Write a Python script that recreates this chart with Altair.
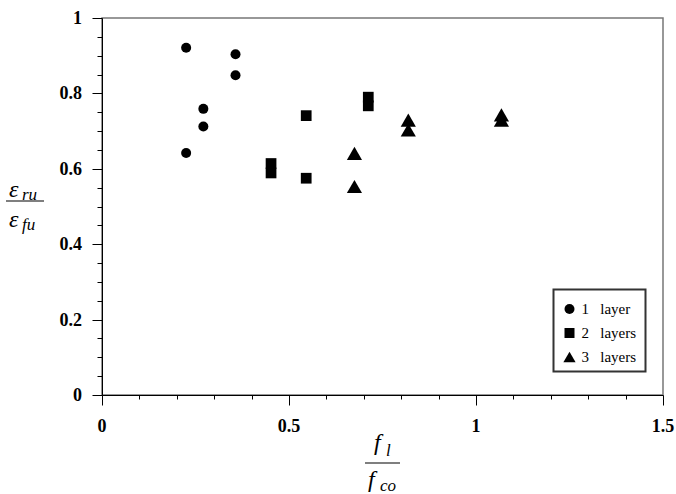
import altair as alt
import pandas as pd

# ---- data ----
groups = ["1 layer", "2 layers", "3 layers"]
x_1layer = [0.225, 0.225, 0.271, 0.271, 0.357, 0.357]
y_1layer = [0.921, 0.642, 0.759, 0.712, 0.904, 0.848]
x_2layers = [0.452, 0.452, 0.546, 0.546, 0.712, 0.712]
y_2layers = [0.614, 0.589, 0.741, 0.575, 0.790, 0.767]
x_3layers = [0.675, 0.675, 0.819, 0.819, 1.068, 1.068]
y_3layers = [0.641, 0.553, 0.729, 0.703, 0.743, 0.729]

x_major = [0, 0.5, 1, 1.5]
x_labels = ["0", "0.5", "1", "1.5"]
x_minor = [0.1, 0.2, 0.3, 0.4, 0.6, 0.7, 0.8, 0.9, 1.1, 1.2, 1.3, 1.4]
y_major = [0, 0.2, 0.4, 0.6, 0.8, 1]
y_labels = ["0", "0.2", "0.4", "0.6", "0.8", "1"]
y_minor = [0.05, 0.1, 0.15, 0.25, 0.3, 0.35, 0.45, 0.5, 0.55,
           0.65, 0.7, 0.75, 0.85, 0.9, 0.95]
legend_labels = ["1\u00a0\u00a0\u00a0layer", "2\u00a0\u00a0\u00a0layers", "3\u00a0\u00a0\u00a0layers"]
legend_shapes = ["circle", "square", "triangle-up"]

rows = []
for g, xs_, ys_ in zip(groups, [x_1layer, x_2layers, x_3layers],
                       [y_1layer, y_2layers, y_3layers]):
    for a, b in zip(xs_, ys_):
        rows.append({"x": a, "y": b, "group": g})
df = pd.DataFrame(rows)

SERIF = "Liberation Serif"
W, H = 561, 377

xs = alt.Scale(domain=[0, 1.5], nice=False, zero=False)
ys = alt.Scale(domain=[0, 1], nice=False, zero=False)

major_x_axis = alt.Axis(values=x_major, orient="bottom", tickSize=10, labels=False,
                        domainColor="black", tickColor="black", grid=False, title=None)
major_y_axis = alt.Axis(values=y_major, orient="left", tickSize=10, labels=False,
                        domainColor="black", tickColor="black", grid=False, title=None)
minor_x_axis = alt.Axis(values=x_minor, orient="bottom", tickSize=4, labels=False,
                        domain=False, tickColor="black", grid=False, title=None)
minor_y_axis = alt.Axis(values=y_minor, orient="left", tickSize=5, labels=False,
                        domain=False, tickColor="black", grid=False, title=None)

size_expr = "datum.group == '3 layers' ? 230 : (datum.group == '2 layers' ? 115 : 100)"

points = alt.Chart(df).transform_calculate(sz=size_expr).mark_point(
    filled=True, opacity=1, color="black").encode(
    x=alt.X("x:Q", scale=xs, axis=major_x_axis),
    y=alt.Y("y:Q", scale=ys, axis=major_y_axis),
    shape=alt.Shape("group:N",
                    scale=alt.Scale(domain=groups, range=legend_shapes),
                    legend=None),
    size=alt.Size("sz:Q", scale=None, legend=None),
)

minor = alt.Chart(df).mark_point(opacity=0).encode(
    x=alt.X("x:Q", scale=xs, axis=minor_x_axis),
    y=alt.Y("y:Q", scale=ys, axis=minor_y_axis),
)

# tick labels (drawn through the shared scales)
xlab = alt.Chart(pd.DataFrame({"v": x_major, "t": x_labels})).mark_text(
    font=SERIF, fontSize=18, fontWeight="bold", color="black",
    align="center", baseline="alphabetic").encode(
    x=alt.X("v:Q", scale=xs, axis=None), y=alt.value(414), text="t:N")
ylab = alt.Chart(pd.DataFrame({"v": y_major, "t": y_labels})).mark_text(
    font=SERIF, fontSize=18, fontWeight="bold", color="black",
    align="right", baseline="alphabetic", dy=6).encode(
    y=alt.Y("v:Q", scale=ys, axis=None), x=alt.value(-20), text="t:N")

one = pd.DataFrame({"k": [0]})


def txt(s, x, y, size, style="oblique", weight="normal"):
    return alt.Chart(one).mark_text(text=s, font=SERIF, fontSize=size, fontStyle=style,
                                    fontWeight=weight,
                                    align="left", baseline="alphabetic", color="black").encode(
        x=alt.value(x), y=alt.value(y))


def bar(x1, x2, y):
    return alt.Chart(one).mark_rule(color="black", strokeWidth=1.2).encode(
        x=alt.value(x1), x2=alt.value(x2), y=alt.value(y))


# y-axis title: epsilon_ru / epsilon_fu
ytitle = [
    txt("ε", -93, 179, 24), txt("ru", -80, 182, 17),
    bar(-96, -58, 183),
    txt("ε", -93, 209, 24), txt("fu", -80, 212, 17),
]
# x-axis title: f_l / f_co
xtitle = [
    txt("f", 272, 432, 24), txt("l", 284, 438, 17),
    bar(263, 298, 445),
    txt("f", 266, 469, 24), txt("co", 278, 473, 17),
]

# legend (box, keys, labels)
leg_box = alt.Chart(one).mark_rect(fill="white", stroke="#333", strokeWidth=2).encode(
    x=alt.value(451.5), x2=alt.value(543.5), y=alt.value(271.5), y2=alt.value(353.5))
leg_items = []
for i, (lab, shp, sz) in enumerate(zip(legend_labels, legend_shapes, [100, 100, 150])):
    ry = 291 + 24 * i
    leg_items.append(alt.Chart(one).mark_point(filled=True, opacity=1, color="black").encode(
        x=alt.value(467.5), y=alt.value(ry), shape=alt.value(shp), size=alt.value(sz)))
    leg_items.append(txt(lab, 479.5, ry + 5, 15, style="normal"))

chart = alt.layer(minor, points, xlab, ylab, *ytitle, *xtitle, leg_box, *leg_items).resolve_axis(
    x="independent", y="independent"
).properties(
    width=W, height=H,
    autosize=alt.AutoSizeParams(type="none"),
    padding={"left": 102, "top": 18, "right": 676 - 102 - W, "bottom": 494 - 18 - H},
).configure_view(stroke="#777", strokeWidth=1.5)

chart.save("out.html", embed_options={"renderer": "svg", "actions": False})
